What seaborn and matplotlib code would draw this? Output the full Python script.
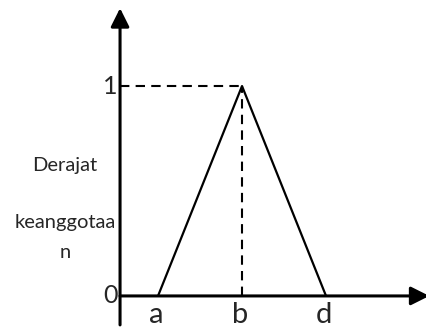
import matplotlib
matplotlib.use('Agg')
import matplotlib.pyplot as plt
import seaborn as sns

# membership function (triangle) points
x_labels = ['a', 'b', 'd']
x_pos = [1.0, 2.0, 3.0]
membership = [0.0, 1.0, 0.0]
y_ticks = [0, 1]
y_text = ['Derajat', 'keanggotaa', 'n']

sns.set_style('white')
plt.rcParams['font.family'] = ['Lato', 'DejaVu Sans']

fig = plt.figure(figsize=(4.27, 3.27), dpi=100)
ax = fig.add_axes([0, 0, 1, 1])
ax.set_xlim(-0.881, 4.202)
ax.set_ylim(-0.148, 1.410)
ax.axis('off')

x0 = 0.548  # where the y axis stands

# axes with arrow heads
arrow = dict(arrowstyle='-|>,head_length=0.4,head_width=0.2', lw=2.2,
             color='black', mutation_scale=28, shrinkA=0, shrinkB=0)
ax.annotate('', xy=(x0, 1.371), xytext=(x0, -0.138), arrowprops=arrow,
            annotation_clip=False)
ax.annotate('', xy=(4.23, 0), xytext=(x0, 0), arrowprops=arrow,
            annotation_clip=False)

# guide lines to the peak
peak = x_pos[membership.index(max(membership))]
ax.hlines(1, x0, peak, colors='black', lw=1.5, linestyles=(0, (4.5, 3)))
ax.vlines(peak, 0, 1, colors='black', lw=1.5, linestyles=(0, (4.5, 3)))

sns.lineplot(x=x_pos, y=membership, sort=False, estimator=None,
             color='black', lw=1.6, ax=ax)

for v in y_ticks:
    ax.text(x0 - 0.03, v, str(v), ha='right', va='center', fontsize=18)

for xp, lab in zip(x_pos, x_labels):
    ax.text(xp - 0.02, -0.03, lab, ha='center', va='top', fontsize=21)

for ty, t in zip([0.495, 0.321, 0.229], y_text):
    ax.text(0.152, ty, t, ha='center', va='center', fontsize=14.5,
            transform=ax.transAxes)

fig.savefig('out.png', dpi=100)
